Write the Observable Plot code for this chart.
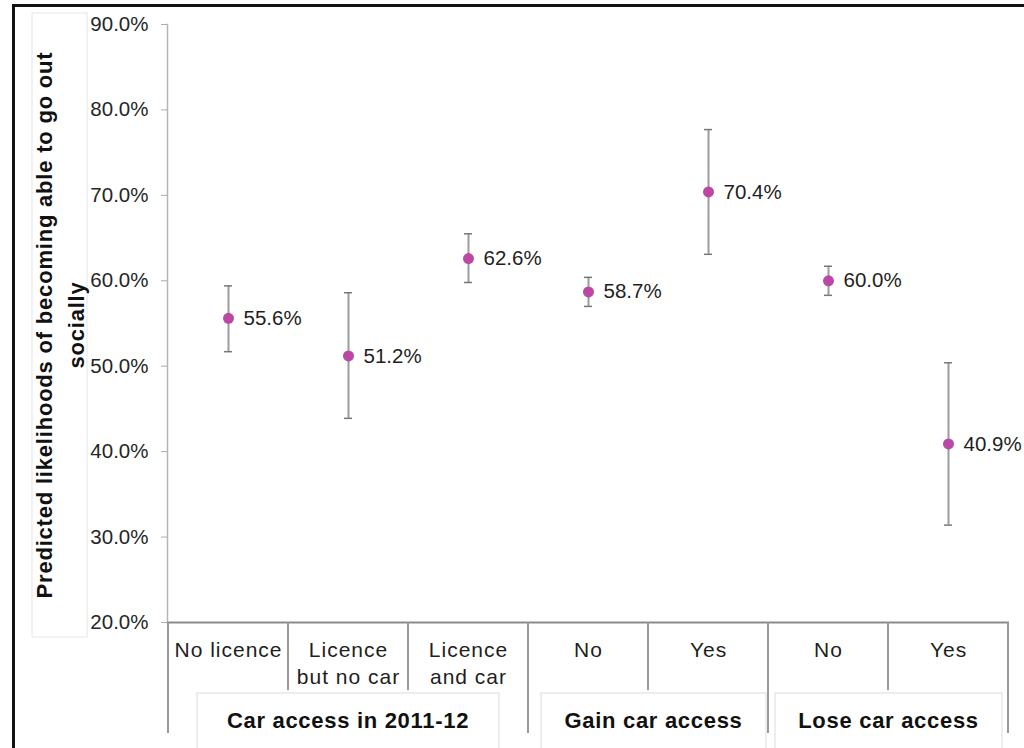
<!DOCTYPE html>
<html><head><meta charset="utf-8">
<script src="https://cdn.jsdelivr.net/npm/d3@7"></script>
<script src="https://cdn.jsdelivr.net/npm/@observablehq/plot@0.6"></script>
<style>
html,body{margin:0;padding:0;background:#fff;}
#wrap{position:relative;width:1024px;height:748px;overflow:hidden;background:#fff;}
#border{position:absolute;left:12px;top:4px;width:1100px;height:900px;border-left:3px solid #111;border-top:3px solid #111;box-sizing:border-box;}
#chart{position:absolute;left:0;top:0;}
</style></head><body>
<div id="wrap"><div id="chart"></div><div id="border"></div></div>
<script>
// ---- data ----
const groups = ["Car access in 2011-12","Car access in 2011-12","Car access in 2011-12","Gain car access","Gain car access","Lose car access","Lose car access"];
const categories = ["No licence","Licence\nbut no car","Licence\nand car","No","Yes","No","Yes"];
const estimates = [55.6, 51.2, 62.6, 58.7, 70.4, 60.0, 40.9];
const lower = [51.7, 43.9, 59.8, 57.0, 63.1, 58.3, 31.4];
const upper = [59.4, 58.6, 65.5, 60.4, 77.7, 61.7, 50.4];
const yTicks = [20, 30, 40, 50, 60, 70, 80, 90];
const groupNames = ["Car access in 2011-12","Gain car access","Lose car access"];
const yTitle = ["Predicted likelihoods of becoming able to go out","socially"];

const data = categories.map((c, i) => ({key: String(i), group: groups[i], category: c, est: estimates[i], lo: lower[i], hi: upper[i]}));
const keys = data.map(d => d.key);

const font = "'Liberation Sans', Arial, sans-serif";

const chart = Plot.plot({
  width: 1024,
  height: 748,
  marginLeft: 167,
  marginRight: 15,
  marginTop: 24,
  marginBottom: 126,
  style: {fontFamily: font, fontSize: "20px", color: "#222", background: "transparent", overflow: "visible"},
  x: {type: "band", domain: keys, padding: 0, axis: null},
  y: {domain: [20, 90], label: null},
  marks: [
    Plot.frame({anchor: "left", stroke: "#b5b5b5", strokeWidth: 1.5}),
    Plot.axisY({ticks: yTicks, tickFormat: d => d.toFixed(1) + "%", tickSize: 6, tickPadding: 13, fontSize: 20.5, stroke: "#aaa", fill: "#262626", label: null}),
    Plot.ruleY([20], {stroke: "#8a8a8a", strokeWidth: 2}),
    Plot.ruleX(data, {x: "key", y1: "lo", y2: "hi", stroke: "#9c9c9c", strokeWidth: 2}),
    Plot.tickY(data, {x: "key", y: "lo", stroke: "#777", strokeWidth: 1.5, insetLeft: 56, insetRight: 56}),
    Plot.tickY(data, {x: "key", y: "hi", stroke: "#777", strokeWidth: 1.5, insetLeft: 56, insetRight: 56}),
    Plot.dot(data, {x: "key", y: "est", r: 5.5, fill: "#BA48A4", stroke: "none"}),
    Plot.text(data, {x: "key", y: "est", text: d => d.est.toFixed(1) + "%", dx: 15, textAnchor: "start", fontSize: 20.5, fill: "#1e1e1e"}),
    Plot.text(data, {x: "key", text: "category", frameAnchor: "bottom", lineAnchor: "top", dy: 15, lineHeight: 1.3, fontSize: 21, fill: "#1e1e1e"})
  ]
});
document.getElementById("chart").appendChild(chart);

const svg = d3.select(chart);
// the last text mark holds the category labels
const textGroups = svg.selectAll('g[aria-label="text"]').nodes();
d3.select(textGroups[textGroups.length - 1]).selectAll("text, tspan").attr("letter-spacing", "1px");

const sx = chart.scale("x");
const sy = chart.scale("y");
const bw = sx.bandwidth;
const y0 = sy.apply(20);
const deco = svg.append("g");

// category dividers & group dividers
const boundaries = [];
keys.forEach((k, i) => {
  const left = sx.apply(k);
  const isGroupStart = i === 0 || groups[i] !== groups[i - 1];
  boundaries.push({x: left, major: isGroupStart});
});
boundaries.push({x: sx.apply(keys[keys.length - 1]) + bw, major: true});
boundaries.forEach(b => {
  deco.append("line").attr("x1", b.x).attr("x2", b.x).attr("y1", y0).attr("y2", y0 + (b.major ? 111 : 68))
    .attr("stroke", "#999").attr("stroke-width", 2);
});

// group boxes and labels
const boxInsets = [[29, 29], [13, 2], [7, 6]];
groupNames.forEach((g, gi) => {
  const idx = keys.filter((k, i) => groups[i] === g);
  const x0 = sx.apply(idx[0]);
  const x1 = sx.apply(idx[idx.length - 1]) + bw;
  const bx0 = x0 + boxInsets[gi][0], bx1 = x1 - boxInsets[gi][1];
  deco.append("rect").attr("x", bx0).attr("y", y0 + 71).attr("width", bx1 - bx0).attr("height", 80)
    .attr("fill", "white").attr("stroke", "#dcdcdc").attr("stroke-width", 1);
  deco.append("text").attr("x", (bx0 + bx1) / 2).attr("y", y0 + 106).attr("text-anchor", "middle")
    .attr("font-weight", "bold").attr("font-size", 22).attr("letter-spacing", "0.7px").attr("fill", "#111").text(g);
});

// y-axis title box
deco.append("rect").attr("x", 32).attr("y", 13).attr("width", 55).attr("height", 624)
  .attr("fill", "white").attr("stroke", "#e6e6e6").attr("stroke-width", 1);
const cy = (sy.apply(90) + y0) / 2;
[52, 84].forEach((bx, i) => {
  deco.append("text").attr("transform", `translate(${bx},${cy + 2}) rotate(-90)`).attr("text-anchor", "middle")
    .attr("font-weight", "bold").attr("font-size", 22).attr("letter-spacing", "0.8px").attr("fill", "#111").text(yTitle[i]);
});
</script>
</body></html>
